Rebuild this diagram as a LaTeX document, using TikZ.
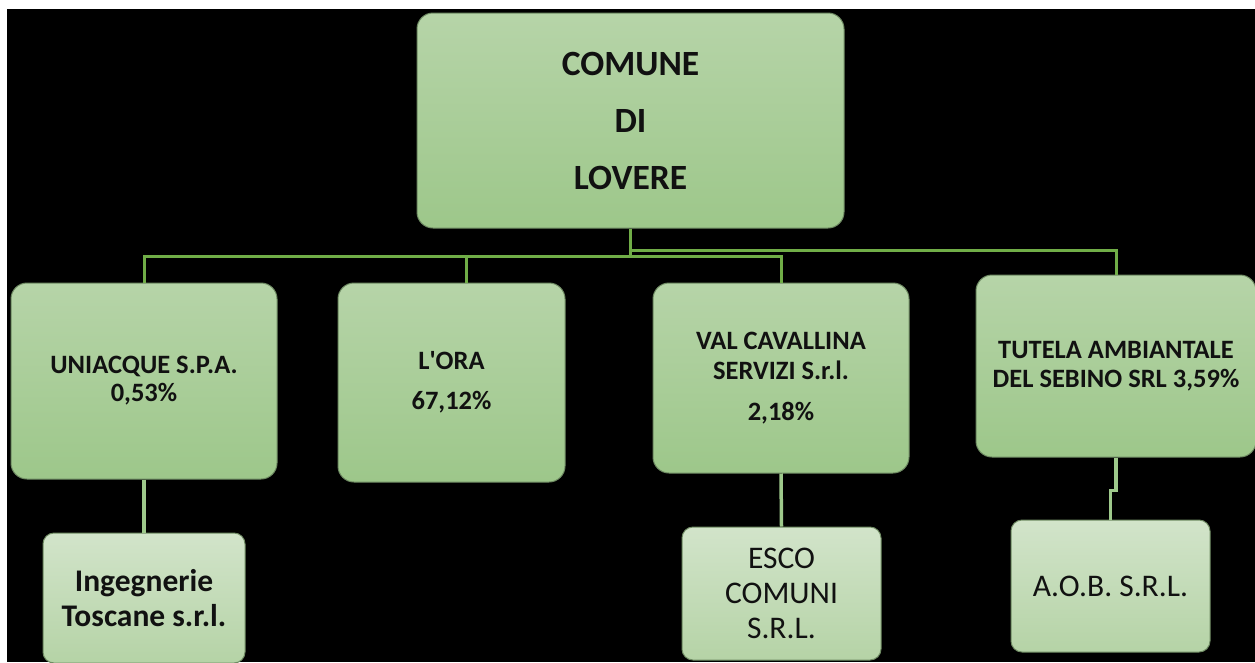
\documentclass[tikz,border=0pt]{standalone}
\usepackage{fontspec}
\setmainfont{Carlito}
\definecolor{ltop}{HTML}{B6D4A8}
\definecolor{lbot}{HTML}{9DC78A}
\definecolor{ptop}{HTML}{D2E4CA}
\definecolor{pbot}{HTML}{B5D3A6}
\definecolor{edge}{HTML}{6F8B63}
\definecolor{wire}{HTML}{70AD47}
\definecolor{wire2}{HTML}{9EC98B}
\definecolor{ink}{HTML}{111111}
\begin{document}
\begin{tikzpicture}[x=1pt,y=-1pt,
  box/.style={draw=edge, line width=1pt, rounded corners=16pt, top color=ltop, bottom color=lbot,
    inner sep=0pt, align=center, text=ink, font=\bfseries\fontsize{26.5}{28}\selectfont},
  sub/.style={draw=edge, line width=1pt, rounded corners=11pt, top color=ptop, bottom color=pbot,
    inner sep=0pt, align=center, text=ink, font=\fontsize{31.5}{35}\selectfont},
  conn/.style={draw=wire, line width=3pt},
  conn2/.style={draw=wire2, line width=3.5pt}]

\fill[white] (0,0) rectangle (1255,662);
\fill[black] (7,9) rectangle (1255,662);
\useasboundingbox (0,0) rectangle (1255,662);

\node[box, minimum width=427pt, minimum height=215pt, font=\bfseries\fontsize{35.5}{57}\selectfont]
  (comune) at (630.5,120.5) {COMUNE\\DI\\LOVERE};

\node[box, minimum width=266pt, minimum height=196pt] (uni) at (144,381) {UNIACQUE S.P.A.\\0,53\%};
\node[box, minimum width=227pt, minimum height=199pt] (lora) at (451.5,382.5) {L\textquotesingle ORA\\[12pt]67,12\%};
\node[box, minimum width=256pt, minimum height=190pt] (val) at (781,378) {VAL CAVALLINA\\[2pt]SERVIZI S.r.l.\\[13pt]2,18\%};
\node[box, minimum width=280pt, minimum height=182pt] (tut) at (1116,366) {TUTELA AMBIANTALE\\[1pt]DEL SEBINO SRL 3,59\%};

\node[sub, minimum width=202pt, minimum height=130pt, font=\bfseries\fontsize{31.5}{35}\selectfont]
  (ing) at (144,598) {Ingegnerie\\Toscane s.r.l.};
\node[sub, minimum width=199pt, minimum height=133pt] (esco) at (781.5,593.5) {ESCO\\COMUNI\\S.R.L.};
\node[sub, minimum width=199pt, minimum height=132pt] (aob) at (1110.5,586) {A.O.B. S.R.L.};

\draw[conn] (comune.south) -- ++(0,28) coordinate (hub);
\draw[conn] (uni.north) |- (hub) -| (val.north);
\coordinate (lj) at ([xshift=14.5pt]lora.north);
\draw[conn] (lj) -- (lj |- hub);
\draw[conn] (comune.south) -- ++(0,22) -| (tut.north);

\draw[conn2] (uni.south) -- (ing.north);
\draw[conn2] (val.south) -- (esco.north);
\draw[conn2] (tut.south) -- ++(0,33) -| (aob.north);
\end{tikzpicture}
\end{document}
